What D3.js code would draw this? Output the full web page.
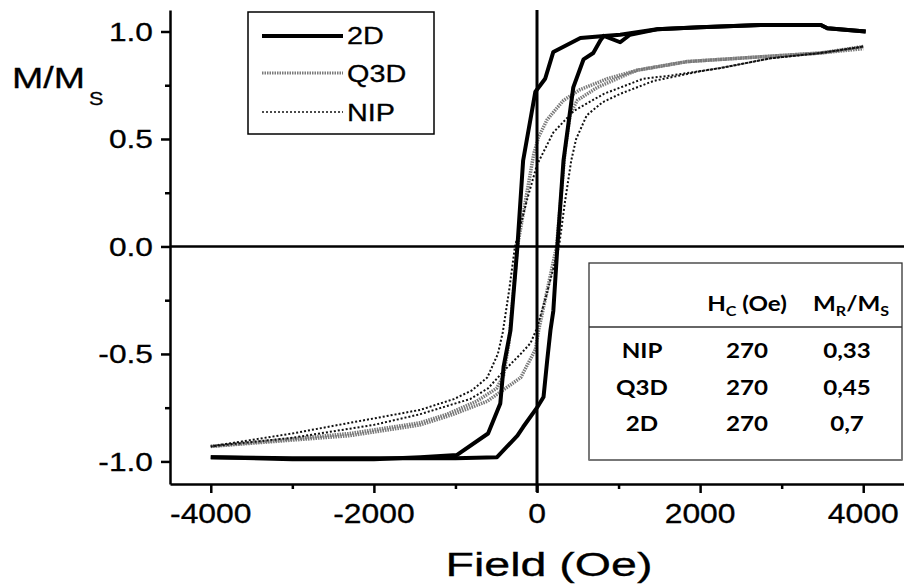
<!DOCTYPE html>
<html>
<head>
<meta charset="utf-8">
<script src="https://cdn.jsdelivr.net/npm/d3@7"></script>
<style>
body { margin: 0; background: #fff; }
svg { display: block; }
</style>
</head>
<body>
<script>
let w = 904
let h = 585

// axis ticks
const xTicks = [-4000, -2000, 0, 2000, 4000]
const xMinor = [-3000, -1000, 1000, 3000]
const yTicks = [-1.0, -0.5, 0.0, 0.5, 1.0]
const yMinor = [-0.75, -0.25, 0.25, 0.75]

// hysteresis loops: [field (Oe), M/Ms]
const desc2D = [[4030, 1.0], [3560, 1.015], [3480, 1.03], [2740, 1.03], [2000, 1.02], [1470, 1.01],
  [1020, 0.985], [860, 0.98], [532, 0.97], [200, 0.905], [100, 0.78], [-20, 0.72], [-170, 0.40],
  [-240, 0.0], [-325, -0.39], [-410, -0.56], [-450, -0.73], [-600, -0.87], [-980, -0.97],
  [-1430, -0.98], [-2000, -0.99], [-3000, -0.99], [-4000, -0.98]]
const asc2D = [[-4000, -0.98], [-3000, -0.985], [-2000, -0.985], [-1000, -0.985], [-490, -0.98],
  [-240, -0.88], [-170, -0.84], [0, -0.75], [80, -0.70], [125, -0.53], [165, -0.39], [200, -0.30],
  [250, 0.0], [325, 0.40], [445, 0.74], [570, 0.87], [690, 0.90], [780, 0.96], [820, 0.98],
  [1020, 0.95], [1140, 0.985], [1470, 1.01], [2000, 1.02], [2740, 1.03], [3480, 1.03], [3560, 1.015], [4030, 1.0]]

const descQ3D = [[4000, 0.93], [3480, 0.90], [2650, 0.88], [1840, 0.86], [1230, 0.82], [860, 0.78],
  [530, 0.73], [325, 0.68], [125, 0.59], [20, 0.51], [-40, 0.43], [-240, 0.0], [-345, -0.45],
  [-410, -0.60], [-495, -0.66], [-740, -0.72], [-1100, -0.78], [-1430, -0.82], [-2290, -0.87], [-4000, -0.93]]
const ascQ3D = [[-4000, -0.93], [-2290, -0.88], [-1430, -0.83], [-1020, -0.78], [-610, -0.72],
  [-200, -0.61], [-20, -0.48], [20, -0.39], [240, 0.0], [345, 0.45], [410, 0.62], [495, 0.68],
  [740, 0.74], [1100, 0.80], [1230, 0.82], [1840, 0.86], [2650, 0.88], [3480, 0.90], [4000, 0.92]]

const descNIP = [[4000, 0.93], [3480, 0.90], [2860, 0.875], [2250, 0.83], [1640, 0.795], [1300, 0.78],
  [820, 0.71], [450, 0.63], [200, 0.53], [0, 0.38], [-120, 0.22], [-270, 0.0], [-340, -0.2],
  [-420, -0.40], [-480, -0.50], [-610, -0.61], [-800, -0.67], [-1020, -0.71], [-1430, -0.76],
  [-2000, -0.80], [-2290, -0.82], [-3000, -0.87], [-4000, -0.93]]
const ascNIP = [[-4000, -0.93], [-3000, -0.89], [-2000, -0.83], [-1430, -0.78], [-1000, -0.73],
  [-820, -0.71], [-600, -0.66], [-410, -0.58], [-200, -0.50], [-80, -0.45], [0, -0.38], [120, -0.22],
  [270, 0.0], [340, 0.2], [420, 0.40], [480, 0.50], [610, 0.61], [800, 0.67], [1020, 0.71],
  [1430, 0.77], [2000, 0.815], [2250, 0.83], [2860, 0.875], [3480, 0.90], [4000, 0.93]]

// inset table
const tableRows = ["NIP", "Q3D", "2D"]
const hcValues = ["270", "270", "270"]
const mrValues = ["0,33", "0,45", "0,7"]

let svg = d3.select("body").append("svg")
  .attr("width", w)
  .attr("height", h)

let x = d3.scaleLinear().domain([-4500, 4500]).range([170, 904])
let y = d3.scaleLinear().domain([-1.105, 1.10]).range([484, 10])

let line = d3.line().x(d => x(d[0])).y(d => y(d[1]))

// text that is a bit wider and heavier than the font, like the scanned figure
let label = (g, px, py, txt, size, anchor, sx) => {
  return g.append("text")
    .attr("transform", "translate(" + px + "," + py + ") scale(" + sx + ",1)")
    .attr("text-anchor", anchor)
    .style("font-family", "'Liberation Sans', Arial, sans-serif")
    .style("font-size", size + "px")
    .attr("fill", "#000")
    .attr("stroke", "#000")
    .attr("stroke-width", 0.3)
    .text(txt)
}

// curves
let curves = svg.append("g")
let drawLoop = (data, color, width, dash) => {
  curves.append("path")
    .datum(data)
    .attr("d", line)
    .attr("fill", "none")
    .attr("stroke", color)
    .attr("stroke-width", width)
    .attr("stroke-dasharray", dash)
    .attr("stroke-linejoin", "round")
}
drawLoop(descQ3D, "#7a7a7a", 3.5, "1.5,1")
drawLoop(ascQ3D, "#7a7a7a", 3.5, "1.5,1")
drawLoop(descNIP, "#111", 2, "2,2")
drawLoop(ascNIP, "#111", 2, "2,2")
drawLoop(desc2D, "#000", 4, null)
drawLoop(asc2D, "#000", 4, null)

// zero lines
svg.append("line")
  .attr("x1", x(-4500)).attr("x2", x(4500))
  .attr("y1", y(0)).attr("y2", y(0))
  .attr("stroke", "#000").attr("stroke-width", 2.5)
svg.append("line")
  .attr("x1", x(0)).attr("x2", x(0))
  .attr("y1", y(1.10)).attr("y2", y(-1.105) + 8)
  .attr("stroke", "#000").attr("stroke-width", 3)

// axes
let xAxis = svg.append("g")
  .attr("transform", "translate(0," + y(-1.105) + ")")
  .call(d3.axisBottom(x).tickValues(xTicks).tickSize(9).tickSizeOuter(0).tickFormat(""))
let xAxisMinor = svg.append("g")
  .attr("transform", "translate(0," + y(-1.105) + ")")
  .call(d3.axisBottom(x).tickValues(xMinor).tickSize(5).tickSizeOuter(0).tickFormat(""))
let yAxis = svg.append("g")
  .attr("transform", "translate(" + x(-4500) + ",0)")
  .call(d3.axisLeft(y).tickValues(yTicks).tickSize(9).tickSizeOuter(0).tickFormat(""))
let yAxisMinor = svg.append("g")
  .attr("transform", "translate(" + x(-4500) + ",0)")
  .call(d3.axisLeft(y).tickValues(yMinor).tickSize(5).tickSizeOuter(0).tickFormat(""))

svg.selectAll(".domain, .tick line")
  .attr("stroke", "#000")
  .attr("stroke-width", 2.5)
xAxisMinor.select(".domain").remove()
yAxisMinor.select(".domain").remove()

xTicks.forEach(t => {
  label(svg, x(t), 523, String(t), 27, "middle", 1.18)
})
yTicks.forEach(t => {
  label(svg, 153, y(t) + 9.5, t.toFixed(1), 26, "end", 1.22)
})

// axis titles
label(svg, 549, 576, "Field (Oe)", 34, "middle", 1.37)
label(svg, 12, 88, "M/M", 30, "start", 1.25)
label(svg, 89, 105, "S", 18, "start", 1.2)

// legend
let legend = svg.append("g").attr("id", "legend")
legend.append("rect")
  .attr("x", 248).attr("y", 12)
  .attr("width", 186).attr("height", 122)
  .attr("fill", "#fff").attr("stroke", "#000").attr("stroke-width", 1.5)

let legendItems = [
  {name: "2D", color: "#000", width: 4, dash: null, ly: 36, ty: 44},
  {name: "Q3D", color: "#7a7a7a", width: 3, dash: "1.5,1", ly: 73, ty: 82},
  {name: "NIP", color: "#111", width: 1.6, dash: "2,2", ly: 112, ty: 121}
]
legendItems.forEach(item => {
  legend.append("line")
    .attr("x1", 262).attr("x2", 343)
    .attr("y1", item.ly).attr("y2", item.ly)
    .attr("stroke", item.color)
    .attr("stroke-width", item.width)
    .attr("stroke-dasharray", item.dash)
  label(legend, 347, item.ty, item.name, 24, "start", 1.2)
})

// table
let table = svg.append("g").attr("id", "table")
table.append("rect")
  .attr("x", 589).attr("y", 263)
  .attr("width", 313).attr("height", 197)
  .attr("fill", "#fff").attr("stroke", "#333").attr("stroke-width", 1.3)
table.append("line")
  .attr("x1", 589).attr("x2", 902)
  .attr("y1", 327).attr("y2", 327)
  .attr("stroke", "#333").attr("stroke-width", 1.3)
table.append("line")
  .attr("x1", 589).attr("x2", 902)
  .attr("y1", 460).attr("y2", 460)
  .attr("stroke", "#777").attr("stroke-width", 2)

let cellText = (px, py, anchor) => {
  return table.append("text")
    .attr("transform", "translate(" + px + "," + py + ") scale(1.15,1)")
    .attr("text-anchor", anchor)
    .style("font-family", "Lato, 'Open Sans', sans-serif")
    .style("font-weight", "bold")
    .style("font-size", "21px")
    .attr("fill", "#000")
}

let hc = cellText(747, 311, "middle")
hc.append("tspan").text("H")
hc.append("tspan").text("C").style("font-size", "14px").attr("dy", 5)
hc.append("tspan").text(" (Oe)").attr("dy", -5)

let mr = cellText(851, 311, "middle")
mr.append("tspan").text("M")
mr.append("tspan").text("R").style("font-size", "14px").attr("dy", 5)
mr.append("tspan").text("/M").attr("dy", -5)
mr.append("tspan").text("S").style("font-size", "14px").attr("dy", 5)

let rowBase = [358, 395, 431]
tableRows.forEach((r, i) => {
  cellText(642, rowBase[i], "middle").text(r)
  cellText(747, rowBase[i], "middle").text(hcValues[i])
  cellText(847, rowBase[i], "middle").text(mrValues[i])
})
</script>
</body>
</html>
